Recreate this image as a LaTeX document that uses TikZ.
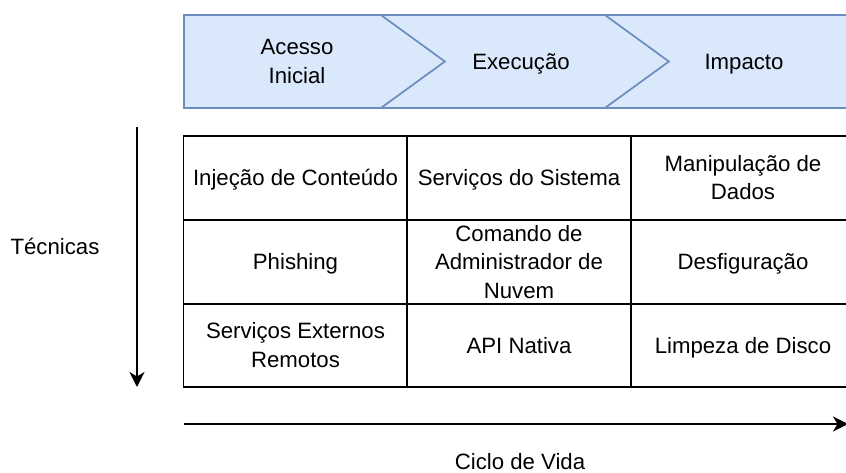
\documentclass[tikz,border=0pt]{standalone}
\usepackage{fontspec}
\setmainfont{Liberation Sans}
\usetikzlibrary{arrows.meta}
\definecolor{bandfill}{HTML}{DAE8FC}
\definecolor{bandline}{HTML}{6C8EBF}
\newcommand\lst{\rule[-5pt]{0pt}{25.4pt}}
\begin{document}
\begin{tikzpicture}[x=1pt,y=-1pt,
  every node/.style={font=\fontsize{22.2}{28.5}\selectfont, inner sep=0pt, align=center},
  stepshape/.style={fill=bandfill, draw=bandline, line width=1.6pt, line join=miter},
  cell/.style={draw=black, line width=1.8pt, minimum width=224pt, minimum height=84pt},
  arr/.style={draw=black, line width=2pt, -{Stealth[length=15pt,width=15pt,inset=4.5pt]}},
  lbl/.style={}]
\useasboundingbox (0,0) rectangle (846,473);

% lifecycle steps
\draw[stepshape] (184,15) -- (381,15) -- (445,61.5) -- (381,108) -- (184,108) -- cycle;
\draw[stepshape] (381,15) -- (605,15) -- (669,61.5) -- (605,108) -- (381,108) -- (445,61.5) -- cycle;
\draw[stepshape] (605,15) -- (880,15) -- (880,108) -- (605,108) -- (669,61.5) -- cycle;
\node[lbl] (s1) at (297,61.5) {\lst Acesso\\Inicial\lst};
\node[lbl] (s2) at (521,61.5) {\lst Execução\lst};
\node[lbl] (s3) at (744,61.5) {\lst Impacto\lst};

% technique table
\node[cell] (c11) at (295.5,178) {\lst Injeção de Conteúdo\lst};
\node[cell] (c12) at (519,178) {\lst Serviços do Sistema\lst};
\node[cell] (c13) at (743,178) {\lst Manipulação de\\Dados\lst};
\node[cell] (c21) at (295.5,262) {\lst Phishing\lst};
\node[cell] (c22) at (519,262) {\lst Comando de\\Administrador de\\Nuvem\lst};
\node[cell] (c23) at (743,262) {\lst Desfiguração\lst};
\node[cell, minimum height=83pt] (c31) at (295.5,345.5) {\lst Serviços Externos\\Remotos\lst};
\node[cell, minimum height=83pt] (c32) at (519,345.5) {\lst API Nativa\lst};
\node[cell, minimum height=83pt] (c33) at (743,345.5) {\lst Limpeza de Disco\lst};

% axes
\coordinate (vtop) at (137,127);
\coordinate (vbot) at (137,387);
\draw[arr] (vtop) -- (vbot);
\coordinate (hleft) at (184,424);
\coordinate (hright) at (848,424);
\draw[arr] (hleft) -- (hright);
\node[lbl] (tec) at (55,247) {\lst Técnicas\lst};
\node[lbl] (ciclo) at (520,461.5) {\lst Ciclo de Vida\lst};
\end{tikzpicture}
\end{document}
